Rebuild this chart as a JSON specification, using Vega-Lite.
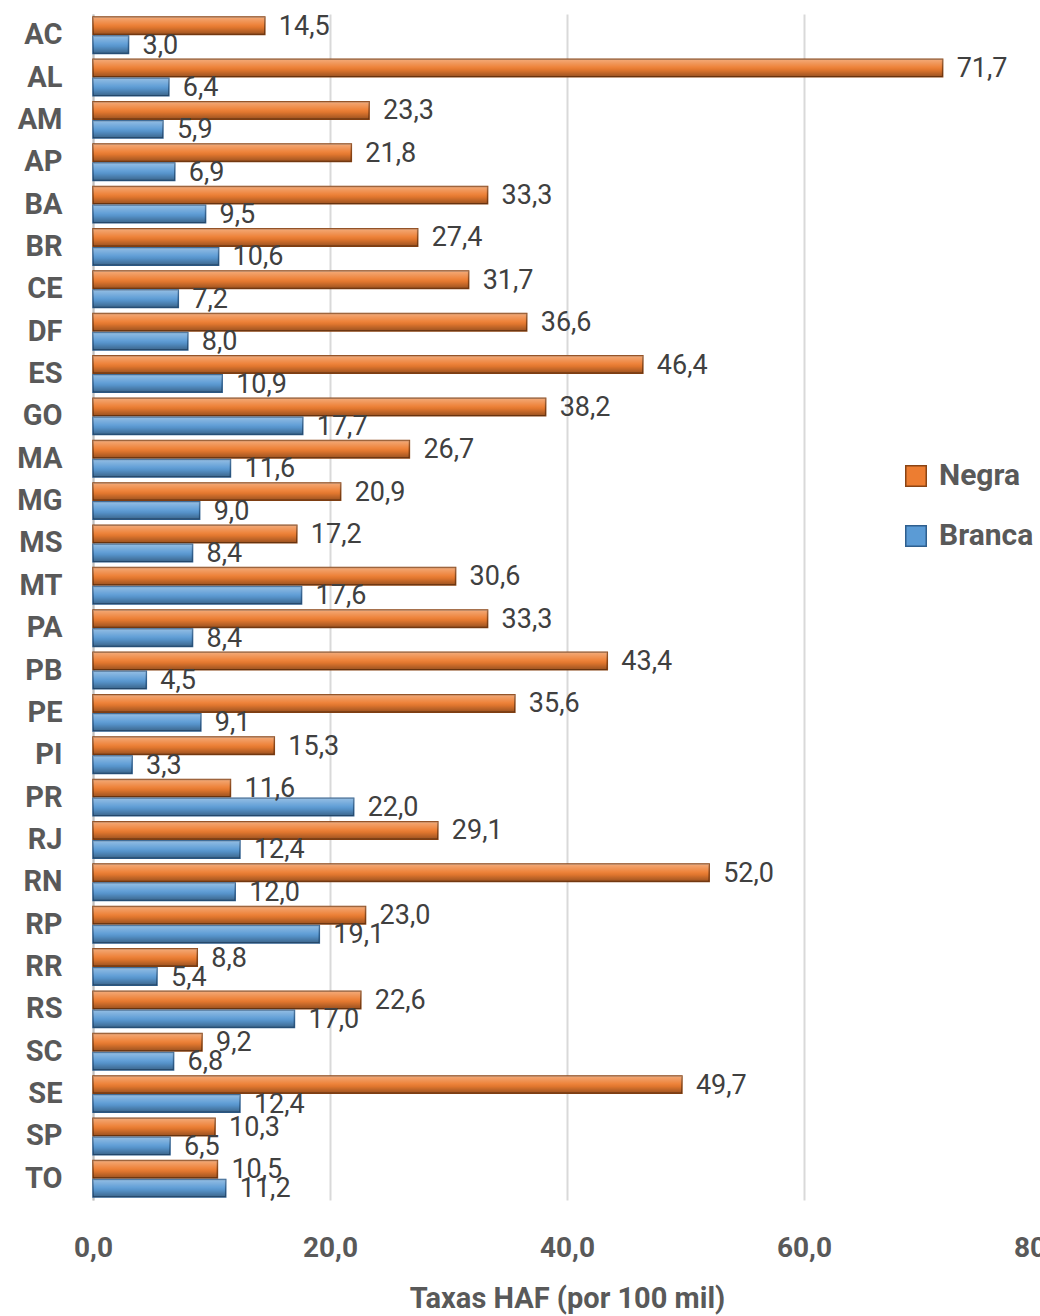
{
  "$schema": "https://vega.github.io/schema/vega-lite/v6.json",
  "width": 948,
  "height": 1186,
  "autosize": {"type": "none"},
  "padding": {"left": 93, "top": 14, "right": 0, "bottom": 116},
  "background": "white",
  "config": {
    "locale": {"number": {"decimal": ",", "thousands": ".", "grouping": [3], "currency": ["R$", ""]}},
    "font": "Roboto",
    "view": {"stroke": null}
  },
  "data": {
    "values": [
      {"uf": "AC", "grupo": "Negra", "taxa": 14.5}, {"uf": "AC", "grupo": "Branca", "taxa": 3.0},
      {"uf": "AL", "grupo": "Negra", "taxa": 71.7}, {"uf": "AL", "grupo": "Branca", "taxa": 6.4},
      {"uf": "AM", "grupo": "Negra", "taxa": 23.3}, {"uf": "AM", "grupo": "Branca", "taxa": 5.9},
      {"uf": "AP", "grupo": "Negra", "taxa": 21.8}, {"uf": "AP", "grupo": "Branca", "taxa": 6.9},
      {"uf": "BA", "grupo": "Negra", "taxa": 33.3}, {"uf": "BA", "grupo": "Branca", "taxa": 9.5},
      {"uf": "BR", "grupo": "Negra", "taxa": 27.4}, {"uf": "BR", "grupo": "Branca", "taxa": 10.6},
      {"uf": "CE", "grupo": "Negra", "taxa": 31.7}, {"uf": "CE", "grupo": "Branca", "taxa": 7.2},
      {"uf": "DF", "grupo": "Negra", "taxa": 36.6}, {"uf": "DF", "grupo": "Branca", "taxa": 8.0},
      {"uf": "ES", "grupo": "Negra", "taxa": 46.4}, {"uf": "ES", "grupo": "Branca", "taxa": 10.9},
      {"uf": "GO", "grupo": "Negra", "taxa": 38.2}, {"uf": "GO", "grupo": "Branca", "taxa": 17.7},
      {"uf": "MA", "grupo": "Negra", "taxa": 26.7}, {"uf": "MA", "grupo": "Branca", "taxa": 11.6},
      {"uf": "MG", "grupo": "Negra", "taxa": 20.9}, {"uf": "MG", "grupo": "Branca", "taxa": 9.0},
      {"uf": "MS", "grupo": "Negra", "taxa": 17.2}, {"uf": "MS", "grupo": "Branca", "taxa": 8.4},
      {"uf": "MT", "grupo": "Negra", "taxa": 30.6}, {"uf": "MT", "grupo": "Branca", "taxa": 17.6},
      {"uf": "PA", "grupo": "Negra", "taxa": 33.3}, {"uf": "PA", "grupo": "Branca", "taxa": 8.4},
      {"uf": "PB", "grupo": "Negra", "taxa": 43.4}, {"uf": "PB", "grupo": "Branca", "taxa": 4.5},
      {"uf": "PE", "grupo": "Negra", "taxa": 35.6}, {"uf": "PE", "grupo": "Branca", "taxa": 9.1},
      {"uf": "PI", "grupo": "Negra", "taxa": 15.3}, {"uf": "PI", "grupo": "Branca", "taxa": 3.3},
      {"uf": "PR", "grupo": "Negra", "taxa": 11.6}, {"uf": "PR", "grupo": "Branca", "taxa": 22.0},
      {"uf": "RJ", "grupo": "Negra", "taxa": 29.1}, {"uf": "RJ", "grupo": "Branca", "taxa": 12.4},
      {"uf": "RN", "grupo": "Negra", "taxa": 52.0}, {"uf": "RN", "grupo": "Branca", "taxa": 12.0},
      {"uf": "RP", "grupo": "Negra", "taxa": 23.0}, {"uf": "RP", "grupo": "Branca", "taxa": 19.1},
      {"uf": "RR", "grupo": "Negra", "taxa": 8.8}, {"uf": "RR", "grupo": "Branca", "taxa": 5.4},
      {"uf": "RS", "grupo": "Negra", "taxa": 22.6}, {"uf": "RS", "grupo": "Branca", "taxa": 17.0},
      {"uf": "SC", "grupo": "Negra", "taxa": 9.2}, {"uf": "SC", "grupo": "Branca", "taxa": 6.8},
      {"uf": "SE", "grupo": "Negra", "taxa": 49.7}, {"uf": "SE", "grupo": "Branca", "taxa": 12.4},
      {"uf": "SP", "grupo": "Negra", "taxa": 10.3}, {"uf": "SP", "grupo": "Branca", "taxa": 6.5},
      {"uf": "TO", "grupo": "Negra", "taxa": 10.5}, {"uf": "TO", "grupo": "Branca", "taxa": 11.2}
    ]
  },
  "encoding": {
    "y": {
      "field": "uf", "type": "nominal", "sort": null,
      "scale": {"paddingInner": 0.14, "paddingOuter": 0.07},
      "axis": {
        "title": null, "ticks": false, "domain": true, "domainColor": "#bfbfbf", "domainWidth": 2,
        "labelFontSize": 29, "labelFontWeight": "bold", "labelColor": "#595959", "labelPadding": 31
      }
    },
    "yOffset": {"field": "grupo", "type": "nominal", "sort": ["Negra", "Branca"], "scale": {"paddingInner": 0.08}},
    "x": {
      "field": "taxa", "type": "quantitative",
      "scale": {"domain": [0, 80], "nice": false},
      "axis": {
        "title": "Taxas HAF (por 100 mil)", "format": ".1f", "values": [0, 20, 40, 60, 80],
        "ticks": false, "domain": false, "grid": true, "gridColor": "#d9d9d9", "gridWidth": 2,
        "labelFontSize": 28, "labelFontWeight": "bold", "labelColor": "#595959", "labelPadding": 34,
        "labelFlush": false, "labelOverlap": false,
        "titleFontSize": 29, "titleFontWeight": "bold", "titleColor": "#595959", "titlePadding": 22
      }
    }
  },
  "layer": [
    {
      "mark": {"type": "bar", "strokeWidth": 1.5},
      "encoding": {
        "color": {
          "field": "grupo", "type": "nominal",
          "scale": {"domain": ["Negra", "Branca"], "range": ["#ED7D31", "#5B9BD5"]},
          "legend": {
            "title": null, "orient": "none", "legendX": 808, "legendY": 447,
            "symbolType": "square", "symbolSize": 420, "symbolStrokeWidth": 1.5,
            "labelFontSize": 30, "labelFontWeight": "bold", "labelColor": "#595959",
            "rowPadding": 30, "labelOffset": 8
          }
        },
        "stroke": {
          "field": "grupo", "type": "nominal",
          "scale": {"domain": ["Negra", "Branca"], "range": ["#8a4414", "#2f5f8e"]},
          "legend": null
        }
      }
    },
    {
      "mark": {
        "type": "bar",
        "fill": {
          "gradient": "linear", "x1": 0, "y1": 0, "x2": 0, "y2": 1,
          "stops": [
            {"offset": 0, "color": "rgba(255,255,255,0.35)"},
            {"offset": 0.45, "color": "rgba(255,255,255,0.05)"},
            {"offset": 0.6, "color": "rgba(0,0,0,0.05)"},
            {"offset": 1, "color": "rgba(0,0,0,0.35)"}
          ]
        }
      },
      "encoding": {}
    },
    {
      "mark": {"type": "text", "align": "left", "baseline": "middle", "dx": 14, "dy": 1, "fontSize": 27, "color": "#404040"},
      "encoding": {
        "text": {"field": "taxa", "type": "quantitative", "format": ".1f"}
      }
    }
  ]
}
